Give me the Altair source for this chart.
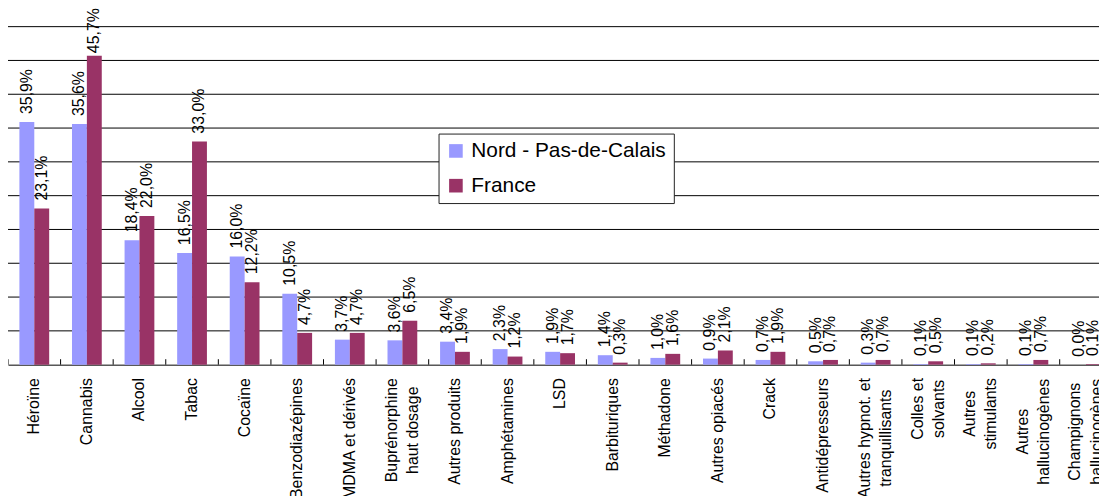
import altair as alt
import pandas as pd

categories = [
    "Héroïne", "Cannabis", "Alcool", "Tabac", "Cocaïne", "Benzodiazépines",
    "MDMA et dérivés", "Buprénorphine\nhaut dosage", "Autres produits",
    "Amphétamines", "LSD", "Barbituriques", "Méthadone", "Autres opiacés",
    "Crack", "Antidépresseurs", "Autres hypnot. et\ntranquillisants",
    "Colles et\nsolvants", "Autres\nstimulants", "Autres\nhallucinogènes",
    "Champignons\nhallucinogènes",
]
nord_pdc = [35.9, 35.6, 18.4, 16.5, 16.0, 10.5, 3.7, 3.6, 3.4, 2.3, 1.9,
            1.4, 1.0, 0.9, 0.7, 0.5, 0.3, 0.1, 0.1, 0.1, 0.0]
france = [23.1, 45.7, 22.0, 33.0, 12.2, 4.7, 4.7, 6.5, 1.9, 1.2, 1.7,
          0.3, 1.6, 2.1, 1.9, 0.7, 0.7, 0.5, 0.2, 0.7, 0.1]
series_names = ["Nord - Pas-de-Calais", "France"]
series_colors = ["#9999FF", "#993366"]
y_ticks = [5, 10, 15, 20, 25, 30, 35, 40, 45, 50]

rows = []
for c, a, b in zip(categories, nord_pdc, france):
    rows.append({"category": c, "series": series_names[0], "value": a})
    rows.append({"category": c, "series": series_names[1], "value": b})
df = pd.DataFrame(rows)
df["label"] = df["value"].map(lambda v: f"{v:.1f}".replace(".", ",") + "%")
cat_df = pd.DataFrame({"category": categories})
grid_df = pd.DataFrame({"value": y_ticks})

FONT = "Liberation Sans"
PLOT_W = 1099
PLOT_H = 340.5
STEP = 52.97
LINE_H = 21.5
PAD = 13

# multi-line labels: lines are centred on each other (half of the longest line)
multi_pad = [("Buprénorphine", 52.5), ("hypnot", 60.5), ("Colles", 31),
             ("stimulants", 36), ("hallucinog", 54)]
pad_conditions = [{"test": f"indexof(datum.label, '{k}') >= 0", "value": PAD + w}
                  for k, w in multi_pad]

x_scale = alt.Scale(domain=categories, range=[0, STEP * len(categories)],
                    paddingInner=0, paddingOuter=0)
x_off = alt.XOffset("series:N", sort=series_names,
                    scale=alt.Scale(domain=series_names, paddingInner=0, paddingOuter=0.766))
y_scale = alt.Scale(domain=[0, 50], nice=False, zero=True)

is_multi = "indexof(datum.label, '\\n') >= 0"
x_axis = alt.Axis(
    title=None, labelAngle=270,
    labelAlign={"condition": {"test": is_multi, "value": "center"}, "value": "right"},
    labelBaseline="middle",
    labelFont=FONT, labelFontSize=16, labelColor="#000",
    labelPadding={"condition": pad_conditions, "value": PAD},
    labelLineHeight=LINE_H, ticks=False, domainColor="#000", domainWidth=1,
    labelOverlap=False, labelLimit=400,
    labelOffset={"condition": {"test": is_multi, "value": -LINE_H / 2}, "value": 0},
    labelExpr="split(datum.label, '\\n')",
)

grid = alt.Chart(grid_df).mark_rule(color="#000", strokeWidth=1).encode(
    y=alt.Y("value:Q", scale=y_scale, axis=None),
)

base = alt.Chart(df)

bars = base.mark_bar().encode(
    x=alt.X("category:N", sort=categories, scale=x_scale, axis=x_axis),
    xOffset=x_off,
    y=alt.Y("value:Q", scale=y_scale, axis=None),
    color=alt.Color("series:N", sort=series_names,
                    scale=alt.Scale(domain=series_names, range=series_colors),
                    legend=alt.Legend(title=None, orient="none", legendX=433.7,
                                      legendY=107.7, fillColor="#FFFFFF",
                                      strokeColor="#222", padding=7,
                                      symbolType="square", symbolSize=188,
                                      symbolStrokeWidth=0, labelFont=FONT,
                                      labelFontSize=21, labelColor="#000",
                                      labelOffset=5, rowPadding=13,
                                      labelLimit=400)),
)

labels = base.transform_calculate(
    labelpos="min(datum.value, 44.9)"
).mark_text(angle=270, align="left", baseline="middle", dx=8,
            font=FONT, fontSize=16, color="#000").encode(
    x=alt.X("category:N", sort=categories, scale=x_scale, axis=x_axis),
    xOffset=x_off,
    y=alt.Y("labelpos:Q", scale=y_scale, axis=None),
    text="label:N",
)

ticks = alt.Chart(cat_df).mark_rule(color="#000", strokeWidth=1).encode(
    x=alt.X("category:N", sort=categories, scale=x_scale, bandPosition=0, axis=x_axis),
    y=alt.value(PLOT_H),
    y2=alt.value(PLOT_H - 5.5),
)

chart = alt.layer(grid, bars, labels, ticks).properties(
    width=PLOT_W, height=PLOT_H,
    autosize=alt.AutoSizeParams(type="none"),
    padding={"left": 0, "top": 17, "right": 0, "bottom": 130},
).configure_view(stroke=None)

chart.save("out.html", embed_options={"renderer": "svg", "actions": False})
